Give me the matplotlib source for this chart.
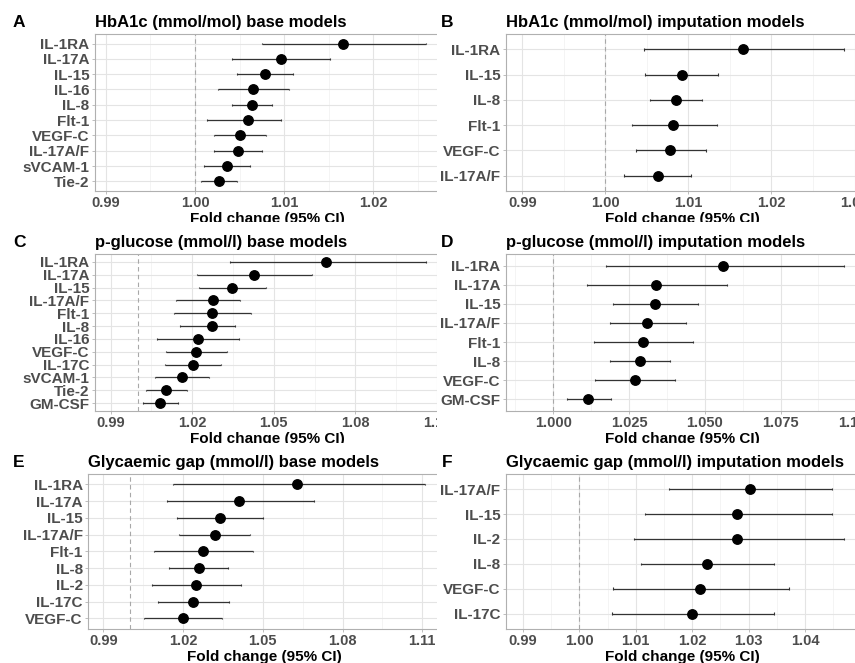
import numpy as np
import matplotlib
matplotlib.use('Agg')
import matplotlib.pyplot as plt
from matplotlib.patches import Rectangle
from matplotlib.ticker import MultipleLocator, FormatStrFormatter

plt.rcParams['font.family'] = ['Liberation Sans', 'DejaVu Sans']

#%% data (fold change and 95% CI)
a_names = ['IL-1RA', 'IL-17A', 'IL-15', 'IL-16', 'IL-8', 'Flt-1', 'VEGF-C', 'IL-17A/F', 'sVCAM-1', 'Tie-2']
a_fc = [1.0166, 1.0096, 1.0079, 1.0065, 1.0064, 1.0059, 1.0051, 1.0048, 1.0036, 1.0027]
a_lo = [1.0075, 1.0042, 1.0047, 1.0026, 1.0041, 1.0013, 1.0021, 1.0021, 1.0010, 1.0007]
a_hi = [1.0259, 1.0151, 1.0110, 1.0105, 1.0086, 1.0097, 1.0080, 1.0075, 1.0062, 1.0047]

b_names = ['IL-1RA', 'IL-15', 'IL-8', 'Flt-1', 'VEGF-C', 'IL-17A/F']
b_fc = [1.0166, 1.0092, 1.0085, 1.0082, 1.0078, 1.0063]
b_lo = [1.0047, 1.0048, 1.0054, 1.0032, 1.0037, 1.0023]
b_hi = [1.0287, 1.0136, 1.0116, 1.0134, 1.0121, 1.0103]

c_names = ['IL-1RA', 'IL-17A', 'IL-15', 'IL-17A/F', 'Flt-1', 'IL-8', 'IL-16', 'VEGF-C',
           'IL-17C', 'sVCAM-1', 'Tie-2', 'GM-CSF']
c_fc = [1.0692, 1.0428, 1.0348, 1.0276, 1.0274, 1.0272, 1.0222, 1.0214, 1.0202, 1.0162, 1.0105, 1.0083]
c_lo = [1.0339, 1.0219, 1.0227, 1.0141, 1.0135, 1.0156, 1.0072, 1.0104, 1.0102, 1.0065, 1.0031, 1.0021]
c_hi = [1.1059, 1.0640, 1.0471, 1.0377, 1.0415, 1.0357, 1.0374, 1.0327, 1.0305, 1.0261, 1.0181, 1.0147]

d_names = ['IL-1RA', 'IL-17A', 'IL-15', 'IL-17A/F', 'Flt-1', 'IL-8', 'VEGF-C', 'GM-CSF']
d_fc = [1.0559, 1.0339, 1.0335, 1.0310, 1.0295, 1.0286, 1.0268, 1.0114]
d_lo = [1.0174, 1.0112, 1.0196, 1.0187, 1.0133, 1.0188, 1.0138, 1.0044]
d_hi = [1.0959, 1.0573, 1.0478, 1.0437, 1.0462, 1.0385, 1.0403, 1.0189]

e_names = ['IL-1RA', 'IL-17A', 'IL-15', 'IL-17A/F', 'Flt-1', 'IL-8', 'IL-2', 'IL-17C', 'VEGF-C']
e_fc = [1.0628, 1.0412, 1.0339, 1.0320, 1.0274, 1.0259, 1.0250, 1.0239, 1.0198]
e_lo = [1.0163, 1.0138, 1.0178, 1.0186, 1.0090, 1.0148, 1.0084, 1.0105, 1.0053]
e_hi = [1.1111, 1.0693, 1.0502, 1.0452, 1.0462, 1.0370, 1.0418, 1.0374, 1.0346]

f_names = ['IL-17A/F', 'IL-15', 'IL-2', 'IL-8', 'VEGF-C', 'IL-17C']
f_fc = [1.0303, 1.0280, 1.0280, 1.0226, 1.0214, 1.0199]
f_lo = [1.0159, 1.0116, 1.0096, 1.0110, 1.0060, 1.0058]
f_hi = [1.0447, 1.0448, 1.0469, 1.0344, 1.0371, 1.0344]

#%% layout (pixels)
W, H = 855, 663
panels = [
    # letter, title, data, axes box (l, t, r, b), region (l, t, r, b), xlim, step, fmt
    ('A', 'HbA1c (mmol/mol) base models', (a_names, a_fc, a_lo, a_hi),
     (95, 34.3, 440, 190.7), (0, 0, 437, 222), (0.98879, 1.02748), 0.01, '%.2f'),
    ('B', 'HbA1c (mmol/mol) imputation models', (b_names, b_fc, b_lo, b_hi),
     (506, 34.3, 859, 190.7), (437, 0, 855, 222), (0.98805, 1.03053), 0.01, '%.2f'),
    ('C', 'p-glucose (mmol/l) base models', (c_names, c_fc, c_lo, c_hi),
     (95, 254.3, 440, 410.7), (0, 222, 437, 443), (0.9843, 1.1111), 0.03, '%.2f'),
    ('D', 'p-glucose (mmol/l) imputation models', (d_names, d_fc, d_lo, d_hi),
     (506, 254.3, 859, 410.7), (437, 222, 855, 443), (0.98438, 1.1009), 0.025, '%.3f'),
    ('E', 'Glycaemic gap (mmol/l) base models', (e_names, e_fc, e_lo, e_hi),
     (88.3, 474.3, 440, 628.5), (0, 443, 437, 663), (0.9843, 1.1167), 0.03, '%.2f'),
    ('F', 'Glycaemic gap (mmol/l) imputation models', (f_names, f_fc, f_lo, f_hi),
     (506, 474.3, 859, 628.5), (437, 443, 855, 663), (0.98702, 1.04953), 0.01, '%.2f'),
]

fig = plt.figure(figsize=(W / 100, H / 100), dpi=100)

for i, (letter, title, (names, fc, lo, hi), box, region, xlim, step, fmt) in enumerate(panels):
    # white background of this panel, covers what spills over from earlier panels
    rl, rt, rr, rb = region
    fig.add_artist(Rectangle((rl / W, 1 - rb / H), (rr - rl) / W, (rb - rt) / H,
                             transform=fig.transFigure, facecolor='white',
                             edgecolor='none', zorder=2 * i + 1))
    l, t, r, b = box
    ax = fig.add_axes([l / W, 1 - b / H, (r - l) / W, (b - t) / H])
    ax.set_zorder(2 * i + 2)

    n = len(names)
    y = np.arange(n)
    ax.axvline(1.0, color='#A8A8A8', ls=(0, (4, 3)), lw=0.8, zorder=1)
    ax.hlines(y, lo, hi, color='#333333', lw=0.9, zorder=2)
    ax.vlines(lo, y - 0.05, y + 0.05, color='#333333', lw=0.8, zorder=2)
    ax.vlines(hi, y - 0.05, y + 0.05, color='#333333', lw=0.8, zorder=2)
    ax.plot(fc, y, 'o', color='black', ms=6.8, zorder=3)

    ax.set_xlim(*xlim)
    ax.set_ylim(n - 0.4, -0.6)
    ax.set_yticks(y)
    ax.set_yticklabels(names, fontsize=11, fontweight='bold')
    ax.xaxis.set_major_locator(MultipleLocator(step))
    ax.xaxis.set_minor_locator(MultipleLocator(step / 2))
    ax.xaxis.set_major_formatter(FormatStrFormatter(fmt))
    for lab in ax.get_xticklabels():
        lab.set_fontweight('bold')
    ax.tick_params(axis='x', labelsize=10.5)
    ax.tick_params(which='both', length=2.5, width=0.6, color='#B3B3B3',
                   labelcolor='#4D4D4D', pad=1.5)
    ax.tick_params(which='minor', length=0)

    ax.set_axisbelow(True)
    ax.grid(which='major', color='#E4E4E4', lw=0.8)
    ax.grid(which='minor', axis='x', color='#F0F0F0', lw=0.5)
    for sp in ax.spines.values():
        sp.set_color('#B0B0B0')
        sp.set_linewidth(0.8)

    ax.set_title(title, loc='left', fontsize=12, fontweight='bold', pad=5.5)
    ax.set_xlabel('Fold change (95% CI)', fontsize=11, fontweight='bold', labelpad=1.5)
    lx = 19 if l < 200 else 447
    ax.text(lx / W, 1 - (t - 7.6) / H, letter, transform=fig.transFigure,
            ha='center', va='baseline', fontsize=12.5, fontweight='bold')

fig.savefig('out.png', dpi=100, facecolor='white')
